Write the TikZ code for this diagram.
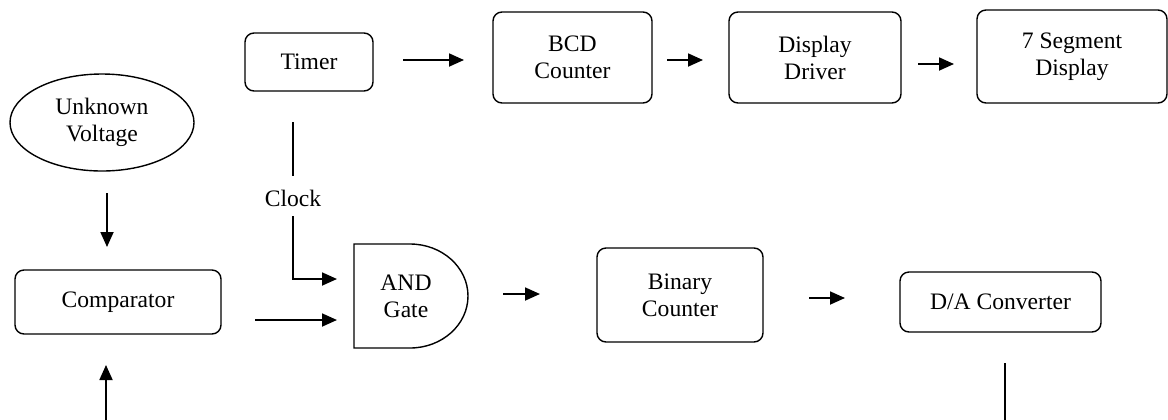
\documentclass[tikz,border=0pt]{standalone}
\usepackage{fontspec}
\setmainfont{Liberation Serif}
\usetikzlibrary{arrows.meta,shapes.geometric}
\begin{document}
\begin{tikzpicture}[x=0.5pt,y=-0.5pt,
  font=\fontsize{11.8pt}{13.5pt}\selectfont,
  blk/.style={draw,line width=0.7pt,rounded corners=4.5pt,align=center,inner sep=0pt},
  arr/.style={line width=0.9pt,-{Triangle[length=7.5pt,width=6.5pt]}},
  ln/.style={line width=0.9pt}]
\useasboundingbox (0,0) rectangle (1168,419);
% nodes
\node[blk,minimum width=64pt,minimum height=29pt] (timer) at (309,62) {Timer};
\node[draw,ellipse,line width=0.7pt,minimum width=92pt,minimum height=48.5pt,inner sep=0pt,align=center] (volt) at (102,122.5) {Unknown\\Voltage};
\node[blk,minimum width=103pt,minimum height=32pt] (comp) at (118,302) {Comparator};
\node[blk,minimum width=79.5pt,minimum height=45.5pt] (bcd) at (572.5,57.5) {BCD\\Counter};
\node[blk,minimum width=86pt,minimum height=45.5pt] (disp) at (815,57.5) {Display\\Driver};
\node[blk,minimum width=95pt,minimum height=46.5pt] (seg) at (1072,56.5) {7 Segment\\Display};
\node[blk,minimum width=83pt,minimum height=47pt] (bin) at (680,295) {Binary\\Counter};
\node[blk,minimum width=100.5pt,minimum height=30pt] (da) at (1000.5,302) {D/A Converter};
\node[align=center,inner sep=0pt] (and) at (406,296) {AND\\Gate};
\draw[line width=0.7pt] (354,244) -- (410,244) arc[start angle=90,end angle=-90,x radius=29pt,y radius=26pt] -- (354,348) -- cycle;
\node[inner sep=0pt] (clk) at (293,198) {Clock};
% coordinates
\coordinate (t1) at (403,60);  \coordinate (t2) at (464,60);
\coordinate (b1) at (667,60);  \coordinate (b2) at (703,60);
\coordinate (d1) at (918,64);  \coordinate (d2) at (954,64);
\coordinate (v1) at (107,193); \coordinate (v2) at (107,247);
\coordinate (u1) at (106,420); \coordinate (u2) at (106,365);
\coordinate (c1) at (293,122); \coordinate (c2) at (293,176);
\coordinate (c3) at (293,216); \coordinate (c4) at (293,279); \coordinate (c5) at (337,279);
\coordinate (m1) at (255,320); \coordinate (m2) at (337,320);
\coordinate (a1) at (503,294); \coordinate (a2) at (540,294);
\coordinate (n1) at (809,298); \coordinate (n2) at (845,298);
\coordinate (e1) at (1005,363); \coordinate (e2) at (1005,420);
% connectors
\draw[arr] (t1) -- (t2);
\draw[arr] (b1) -- (b2);
\draw[arr] (d1) -- (d2);
\draw[arr] (v1) -- (v2);
\draw[arr] (u1) -- (u2);
\draw[ln] (c1) -- (c2);
\draw[arr] (c3) -- (c4) -- (c5);
\draw[arr] (m1) -- (m2);
\draw[arr] (a1) -- (a2);
\draw[arr] (n1) -- (n2);
\draw[ln] (e1) -- (e2);
\end{tikzpicture}
\end{document}
